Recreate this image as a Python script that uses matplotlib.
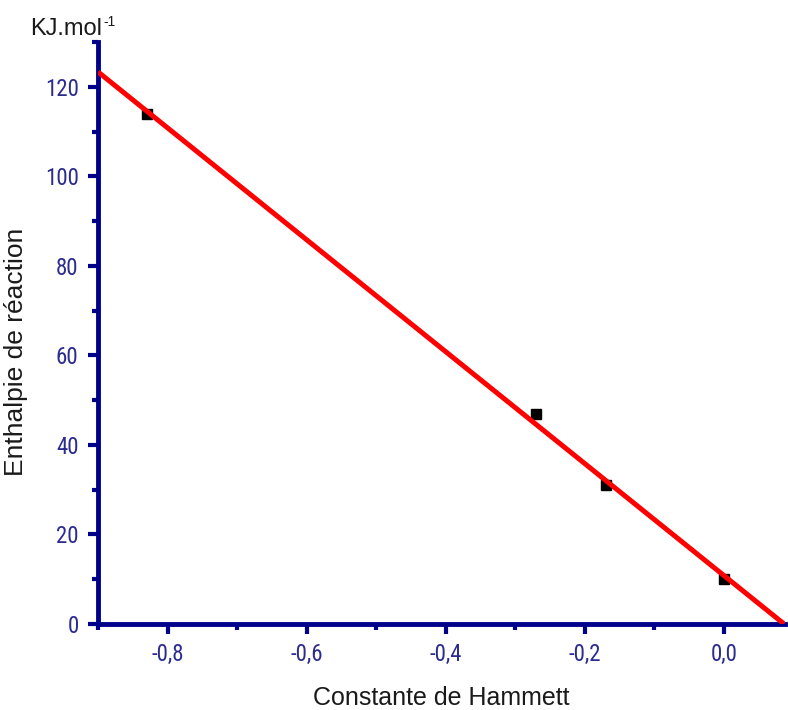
import numpy as np
import matplotlib.pyplot as plt
from matplotlib import font_manager
from matplotlib.ticker import MultipleLocator

plt.rcParams['font.family'] = ['Liberation Sans', 'DejaVu Sans']

# data
hammett = [-0.83, -0.27, -0.17, 0.0]
enthalpy = [114, 47, 31, 10]
xtick_vals = [-0.8, -0.6, -0.4, -0.2, 0.0]
xtick_labels = ['-0,8', '-0,6', '-0,4', '-0,2', '0,0']
ytick_vals = [0, 20, 40, 60, 80, 100, 120]

navy = '#00008b'
lab_col = '#2b2b90'

# narrow font for tick labels if one exists
names = set(f.name for f in font_manager.fontManager.ttflist)
tick_font = ['Liberation Sans']
for cand in ['Liberation Sans Narrow', 'Arial Narrow', 'Roboto Condensed', 'Open Sans Condensed']:
    if cand in names:
        tick_font = [cand]
        break
narrow = tick_font[0] != 'Liberation Sans'

fig = plt.figure(figsize=(7.88, 7.10), dpi=100)
ax = fig.add_axes([0.1244, 0.1211, 0.8716, 0.8197])

# linear fit
p = np.polyfit(hammett, enthalpy, 1)
x0 = -0.9
x1 = -p[1] / p[0]
xf = np.linspace(x0, x1, 200)
ax.plot(xf, np.polyval(p, xf), color='#ff0000', lw=3.6, zorder=3, solid_capstyle='butt')
ax.plot(hammett, enthalpy, 's', color='black', ms=7, zorder=2)

ax.set_xlim(-0.9, x1 + 0.001)
ax.set_ylim(0, 130)

for s in ['top', 'right']:
    ax.spines[s].set_visible(False)
for s in ['left', 'bottom']:
    ax.spines[s].set_color(navy)
    ax.spines[s].set_linewidth(3.5)

ax.set_xticks(xtick_vals)
ax.set_xticklabels(xtick_labels)
ax.set_yticks(ytick_vals)
ax.xaxis.set_minor_locator(MultipleLocator(0.1))
ax.yaxis.set_minor_locator(MultipleLocator(10))
ax.tick_params(which='major', direction='out', length=7, width=3, color=navy,
               labelcolor=lab_col, labelsize=16.5 if narrow else 15, pad=7)
ax.tick_params(which='minor', direction='out', length=4, width=3, color=navy)
for lab in ax.get_xticklabels() + ax.get_yticklabels():
    lab.set_family(tick_font + ['DejaVu Sans'])

ax.set_xlabel('Constante de Hammett', fontsize=18, color='#1a1a1a', labelpad=14)
ax.set_ylabel('Enthalpie de réaction', fontsize=19, color='#1a1a1a')
ax.yaxis.set_label_coords(-0.102, 0.467)

unit = fig.text(0.038, 0.951, 'KJ.mol', fontsize=17, color='#1a1a1a')
ax.annotate('-1', xy=(1, 1), xycoords=unit, xytext=(1, 2), textcoords='offset points',
            ha='left', va='top', fontsize=10, color='#1a1a1a')

fig.savefig('out.png', dpi=100)
